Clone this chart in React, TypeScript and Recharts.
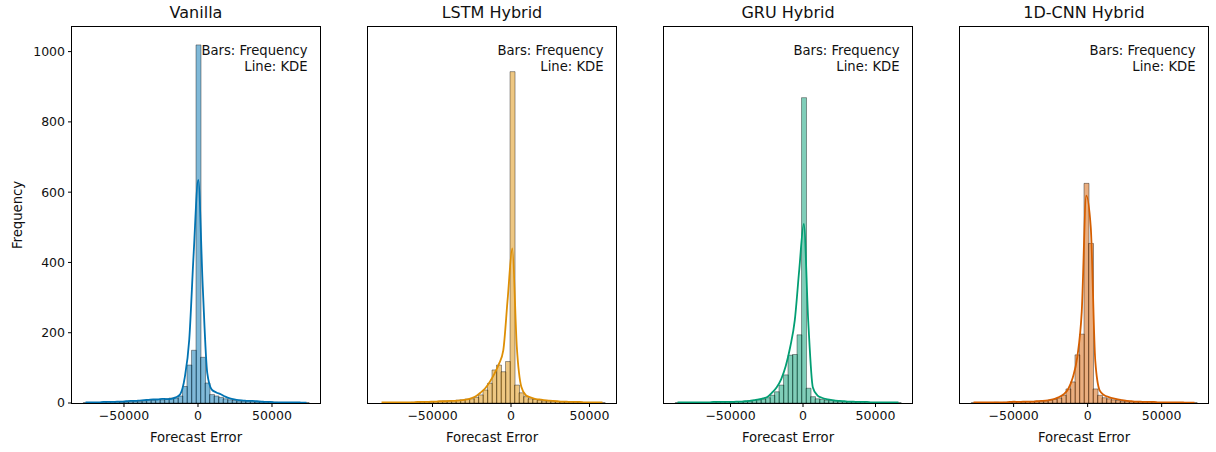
import React from "react";
import { Bar, ComposedChart, Line, XAxis, YAxis } from "recharts";

// panel titles and seaborn "colorblind" colours
const titles = ["Vanilla", "LSTM Hybrid", "GRU Hybrid", "1D-CNN Hybrid"];
const colors = ["#0173b2", "#de8f05", "#029e73", "#d55e00"];

// histogram range (min / max forecast error) for each model, 50 bins each
const binRanges: [number, number][] = [
  [-77518, 74817],
  [-83903, 59699],
  [-88088, 67398],
  [-78600, 73700],
];

const vanillaCounts = [
  1, 0, 1, 1, 2, 1, 2, 3, 2, 3, 4, 5, 4, 6, 8, 7, 10, 9, 12, 14, 14, 20, 47, 108, 150,
  1019, 130, 57, 24, 20, 16, 12, 9, 7, 6, 5, 5, 4, 3, 3, 2, 3, 2, 1, 1, 1, 0, 1, 1, 1,
];
const vanillaKde = [
  2, 2, 2, 2, 3, 3, 3, 4, 4, 5, 6, 6, 7, 8, 9, 10, 10, 12, 11, 12, 16, 25, 72, 180, 430,
  635, 330, 85, 38, 30, 25, 18, 13, 10, 8, 7, 6, 6, 5, 4, 3, 3, 2, 2, 2, 2, 2, 2, 1, 1,
];

const lstmCounts = [
  0, 0, 1, 0, 1, 1, 1, 2, 2, 2, 3, 3, 4, 5, 6, 6, 7, 8, 9, 11, 12, 16, 23, 37, 56, 94,
  108, 89, 118, 943, 51, 29, 18, 12, 10, 8, 6, 6, 5, 4, 3, 3, 2, 2, 2, 1, 1, 1, 0, 1,
];
const lstmKde = [
  2, 2, 2, 2, 2, 2, 2, 2, 3, 3, 3, 4, 4, 5, 5, 6, 6, 7, 8, 10, 14, 20, 30, 42, 60, 82,
  110, 150, 300, 440, 160, 46, 22, 16, 12, 10, 8, 7, 6, 5, 4, 4, 3, 3, 3, 2, 2, 2, 2, 2,
];

const gruCounts = [
  1, 0, 0, 1, 0, 1, 1, 1, 2, 2, 2, 3, 3, 4, 4, 5, 6, 7, 9, 11, 15, 22, 32, 51, 80, 136,
  138, 194, 869, 42, 18, 12, 10, 8, 7, 6, 5, 4, 3, 3, 2, 2, 1, 1, 1, 1, 0, 1, 0, 1,
];
const gruKde = [
  2, 2, 2, 2, 2, 2, 2, 2, 3, 3, 3, 3, 3, 4, 4, 5, 6, 8, 10, 13, 18, 30, 45, 68, 105, 160,
  235, 380, 510, 230, 45, 22, 15, 11, 9, 7, 6, 5, 4, 4, 3, 3, 3, 2, 2, 2, 2, 2, 2, 2,
];

const cnnCounts = [
  1, 1, 0, 1, 1, 2, 1, 2, 2, 3, 3, 3, 4, 4, 5, 5, 6, 8, 10, 14, 22, 40, 60, 137, 196,
  625, 454, 40, 22, 15, 12, 9, 7, 5, 5, 4, 3, 3, 2, 2, 2, 1, 1, 1, 1, 0, 1, 0, 1, 1,
];
const cnnKde = [
  2, 2, 2, 2, 2, 2, 2, 2, 3, 4, 3, 4, 4, 4, 5, 6, 7, 9, 12, 17, 25, 40, 72, 130, 260,
  590, 500, 120, 35, 22, 17, 13, 10, 8, 6, 5, 4, 4, 3, 3, 3, 2, 2, 2, 2, 2, 2, 1, 1, 1,
];

const allCounts = [vanillaCounts, lstmCounts, gruCounts, cnnCounts];
const allKde = [vanillaKde, lstmKde, gruKde, cnnKde];

const xTicks = [-50000, 0, 50000];
const yTicks = [0, 200, 400, 600, 800, 1000];
const Y_MAX = 1070;

const PLOT_W = 248;
const PLOT_TOP = 27;
const PLOT_H = 376;
const AXIS_W = 72;
const panelLefts = [72, 368, 664, 960];

type Row = { x: number; count: number; kde: number };

function buildRows(range: [number, number], counts: number[], kde: number[]): Row[] {
  const [lo, hi] = range;
  const w = (hi - lo) / counts.length;
  return counts.map((c, i) => ({ x: lo + (i + 0.5) * w, count: c, kde: kde[i] }));
}

// matplotlib-like 5% margin around the data range
function paddedDomain(range: [number, number]): [number, number] {
  const pad = (range[1] - range[0]) * 0.05;
  return [range[0] - pad, range[1] + pad];
}

const fmt = (v: number) => (v < 0 ? "\u2212" + Math.abs(v) : String(v));

const tickStyle = { fontSize: 12.5, fill: "#111" };
const labelStyle = { fontSize: 13.2, fill: "#111" };

function Panel({ idx }: { idx: number }) {
  const left = panelLefts[idx];
  const data = buildRows(binRanges[idx], allCounts[idx], allKde[idx]);
  const color = colors[idx];
  const first = idx === 0;

  return (
    <>
      <div style={{ position: "absolute", left: left - AXIS_W, top: 0 }}>
        <ComposedChart
          width={AXIS_W + PLOT_W + 10}
          height={452}
          data={data}
          margin={{ top: PLOT_TOP, right: 10, bottom: 0, left: 0 }}
          barCategoryGap={0}
          barGap={0}
        >
          <XAxis
            dataKey="x"
            type="number"
            domain={paddedDomain(binRanges[idx])}
            allowDataOverflow
            ticks={xTicks}
            interval={0}
            tickFormatter={fmt}
            tick={tickStyle}
            tickSize={4}
            tickMargin={4}
            tickLine={{ stroke: "#000" }}
            axisLine={false}
            height={452 - PLOT_TOP - PLOT_H}
            label={{
              value: "Forecast Error",
              position: "insideBottom",
              offset: 10,
              style: labelStyle,
            }}
          />
          <YAxis
            type="number"
            domain={[0, Y_MAX]}
            ticks={yTicks}
            interval={0}
            width={AXIS_W}
            tick={first ? tickStyle : false}
            tickSize={4}
            tickMargin={3}
            tickLine={{ stroke: "#000" }}
            axisLine={false}
            label={
              first
                ? {
                    value: "Frequency",
                    angle: -90,
                    position: "insideLeft",
                    offset: 17,
                    style: { ...labelStyle, textAnchor: "middle" },
                  }
                : undefined
            }
          />
          <Bar
            dataKey="count"
            fill={color}
            fillOpacity={0.5}
            stroke="#000"
            strokeOpacity={0.5}
            strokeWidth={0.75}
            isAnimationActive={false}
          />
          <Line
            type="monotone"
            dataKey="kde"
            stroke={color}
            strokeWidth={1.8}
            dot={false}
            activeDot={false}
            isAnimationActive={false}
          />
        </ComposedChart>
      </div>
      {/* axes frame */}
      <div
        style={{
          position: "absolute",
          left: left - 1,
          top: PLOT_TOP - 1,
          width: PLOT_W + 2,
          height: PLOT_H + 2,
          border: "1px solid #000",
          boxSizing: "border-box",
          pointerEvents: "none",
        }}
      />
      <div
        style={{
          position: "absolute",
          left,
          top: 3,
          width: PLOT_W,
          textAlign: "center",
          fontSize: 16,
          lineHeight: "20px",
          color: "#111",
        }}
      >
        {titles[idx]}
      </div>
      <div
        style={{
          position: "absolute",
          left,
          top: 42.5,
          width: PLOT_W * 0.95,
          textAlign: "right",
          fontSize: 13.2,
          lineHeight: "16.5px",
          color: "#111",
        }}
      >
        <div>Bars: Frequency</div>
        <div>Line: KDE</div>
      </div>
    </>
  );
}

export default function App() {
  return (
    <div
      style={{
        position: "absolute",
        left: 0,
        top: 0,
        width: 1216,
        height: 452,
        background: "#fff",
        fontFamily: "'DejaVu Sans', sans-serif",
      }}
    >
      {titles.map((_, i) => (
        <Panel key={i} idx={i} />
      ))}
    </div>
  );
}
